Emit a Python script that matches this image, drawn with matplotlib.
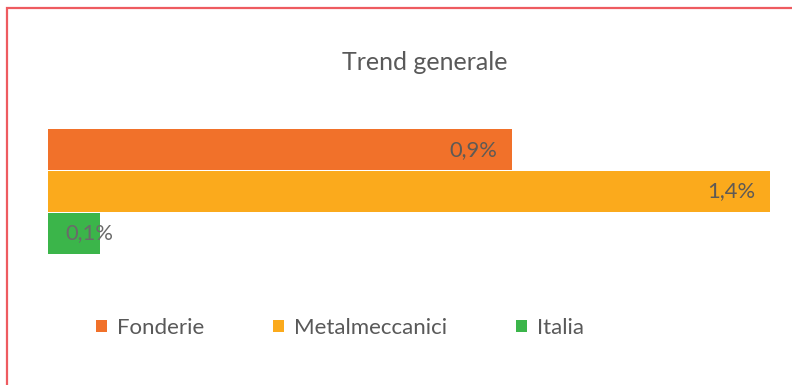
import matplotlib
matplotlib.use("Agg")
import matplotlib.pyplot as plt
from matplotlib.patches import Rectangle, Patch

categories = ["Fonderie", "Metalmeccanici", "Italia"]
values = [0.9, 1.4, 0.1]
labels = ["0,9%", "1,4%", "0,1%"]
colors = ["#F1712A", "#FBAA1C", "#3BB54A"]

W, H = 792, 385
fig = plt.figure(figsize=(W / 100, H / 100), dpi=100)
fig.patch.set_facecolor("white")
plt.rcParams["font.family"] = ["Lato", "DejaVu Sans"]

# frame border (top and left visible)
fig.patches.append(Rectangle((7 / W, -0.05), 1.2, 1 - 8 / H + 0.05,
                             transform=fig.transFigure, fill=False,
                             edgecolor="#EE5B60", linewidth=1.6, zorder=0))

ax = fig.add_axes([48 / W, (H - 254) / H, 722 / W, 125 / H])
ypos = list(range(len(categories)))
bars = ax.barh(ypos, values, height=0.98, color=colors, label=categories)
ax.set_xlim(0, 1.4)
ax.set_ylim(len(categories) - 0.5, -0.5)
ax.axis("off")

for b, v, lab in zip(bars, values, labels):
    y = b.get_y() + b.get_height() / 2
    if v >= 0.3:
        ax.annotate(lab, (v, y), xytext=(-15, 0), textcoords="offset pixels",
                    ha="right", va="center", fontsize=15.8, color="#5E5A55")
    else:
        ax.annotate(lab, (0, y), xytext=(17, 0), textcoords="offset pixels",
                    ha="left", va="center", fontsize=15.8, color="#6A6A6A")

fig.text(425 / W, 1 - 62 / H, "Trend generale", ha="center", va="center",
         fontsize=18, color="#595959")

handles = [Patch(facecolor=c, edgecolor="none") for c in colors]
leg = fig.legend(handles, categories, loc="center", bbox_to_anchor=(340 / W, 1 - 328 / H),
                 ncol=3, frameon=False, fontsize=16, handlelength=0.48, handleheight=0.48,
                 handletextpad=0.45, columnspacing=3.1, labelcolor="#595959")

fig.savefig("out.png", dpi=100, facecolor="white")
